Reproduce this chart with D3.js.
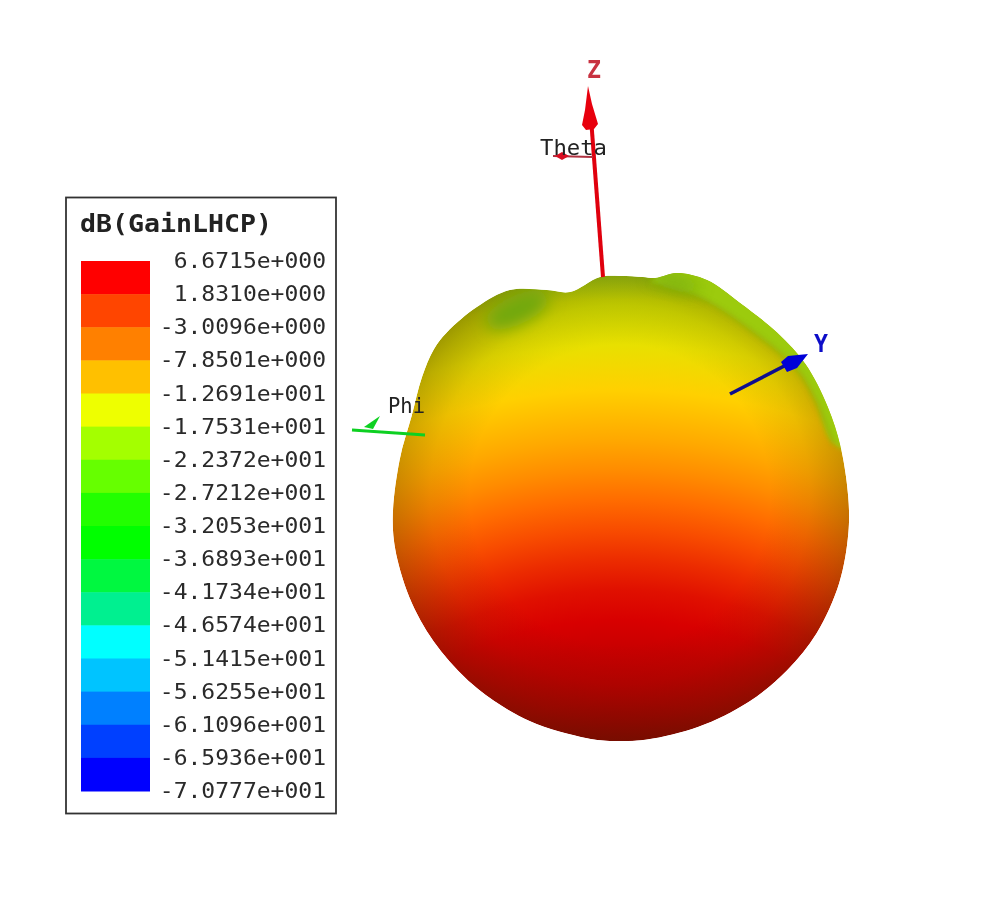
<!DOCTYPE html>
<html><head><meta charset="utf-8">
<script src="https://cdn.jsdelivr.net/npm/d3@7/dist/d3.min.js"></script>
<style>html,body{margin:0;background:#fff}svg{display:block}</style></head>
<body><svg id="c" width="1000" height="920"></svg>
<script>
const legendTitle = "dB(GainLHCP)";
const legendLabels = ["6.6715e+000","1.8310e+000","-3.0096e+000","-7.8501e+000","-1.2691e+001","-1.7531e+001","-2.2372e+001","-2.7212e+001","-3.2053e+001","-3.6893e+001","-4.1734e+001","-4.6574e+001","-5.1415e+001","-5.6255e+001","-6.1096e+001","-6.5936e+001","-7.0777e+001"];
const legendColors = ["#ff0000","#ff4400","#ff8000","#ffc000","#eeff00","#a4ff00","#66ff00","#22ff00","#00ff00","#00f840","#00f090","#00ffff","#00c4ff","#0080ff","#0040ff","#0000ff"];
const patternAngles = [0,5.6,8.6,13.5,20.7,30.1,41.6,51.8,63.5,74,86.7,95.8,108.4,122,133.8,146.2,160.1,173.3,181.7,188.2,203.2,218.3,231.7,244.2,257.4,267.5,282.8,294.2,303.9,310.9,315.7,324.8,333.4,341.6,347.1,355.1];
const patternRadii  = [234,234.1,234.6,243.8,245.9,239.3,237,236,232,229.5,228.6,229.5,231,232,231.5,231,230.5,231,231,230.5,229.5,228.5,228,228,228,227.5,226,228.5,238.5,246,248,248.3,246,231.8,223.7,233.9];
const surfaceHeights = [276,300,345,390,440,470,500,530,560,590,620,650,700,741];
const surfaceColors = ["#9ccb10","#c8d800","#e8e000","#ffd000","#ffa800","#ff8c00","#ff6c00","#f84c00","#ec2c00","#e01000","#d80000","#c80000","#b40000","#9c0000"];

const svg = d3.select("#c");
const defs = svg.append("defs");
const blur = (id,s)=>defs.append("filter").attr("id",id).attr("x","-80%").attr("y","-80%").attr("width","260%").attr("height","260%").append("feGaussianBlur").attr("stdDeviation",s);
blur("soft",0.45); blur("b8",8); blur("b3",2.5);

/* ---- surface ---- */
const cx=620, cy=510, focus=1000;
const rScale=d3.scaleLinear().domain([0,100]).range([0,100]);
const aScale=d3.scaleLinear().domain([0,360]).range([0,2*Math.PI]);
const outline=d3.lineRadial().angle(p=>aScale(p[0])).radius(p=>rScale(p[1])).curve(d3.curveCatmullRomClosed.alpha(0.5));
const blobPath=outline(d3.zip(patternAngles,patternRadii));
const g=svg.append("g").attr("transform",`translate(${cx},${cy})`);
const lg=defs.append("radialGradient").attr("id","surf").attr("gradientUnits","userSpaceOnUse").attr("cx",0).attr("cy",focus-cy).attr("r",focus-276);
const hS=d3.scaleLinear().domain([focus,276]).range([0,1]);
d3.range(surfaceHeights.length-1,-1,-1).forEach(i=>lg.append("stop").attr("offset",hS(surfaceHeights[i])).attr("stop-color",surfaceColors[i]));
const rg=defs.append("radialGradient").attr("id","shade").attr("gradientUnits","userSpaceOnUse").attr("cx",0).attr("cy",-15).attr("r",250);
[[0,0],[0.6,0],[0.76,0.1],[0.9,0.27],[1,0.42]].forEach(s=>rg.append("stop").attr("offset",s[0]).attr("stop-color","#402000").attr("stop-opacity",s[1]));
defs.append("clipPath").attr("id","blob").append("path").attr("d",blobPath);
const inner=g.append("g").attr("clip-path","url(#blob)");
inner.append("path").attr("d",blobPath).attr("fill","url(#surf)");
inner.append("path").attr("d",blobPath).attr("fill","url(#shade)");
// rim lobe on the upper right
const rim=d3.line().curve(d3.curveCatmullRom);
inner.append("path").attr("d",rim([[30,-227],[80,-212],[130,-180],[177,-140],[195,-110],[214,-66],[240,-60],[235,-200],[60,-262]])+"Z").attr("fill","#9ccb10").attr("filter","url(#b3)");
inner.append("path").attr("d",rim([[30,-227],[80,-212],[130,-180],[177,-140],[195,-110],[214,-66]])).attr("fill","none").attr("stroke","#8a9a08").attr("stroke-width",3).attr("opacity",0.4).attr("filter","url(#b3)");
// dimples
const bump=[[-103,-200,34,14,"#70a810",1,-25],[55,-228,26,8,"#78ac10",0.8,16]];
inner.selectAll("ellipse.b").data(bump).join("ellipse").attr("rx",b=>b[2]).attr("ry",b=>b[3]).attr("transform",b=>`translate(${b[0]},${b[1]}) rotate(${b[6]})`).attr("fill",b=>b[4]).attr("opacity",b=>b[5]).attr("filter","url(#b8)");

/* ---- axes ---- */
const ax=svg.append("g").attr("filter","url(#soft)");
const ln=(a,b,c,w)=>ax.append("line").attr("x1",a[0]).attr("y1",a[1]).attr("x2",b[0]).attr("y2",b[1]).attr("stroke",c).attr("stroke-width",w);
const poly=(p,c)=>ax.append("polygon").attr("points",p.map(q=>q.join(",")).join(" ")).attr("fill",c);
const txt=(s,x,y,c,fs,b,len)=>{const t=ax.append("text").attr("x",x).attr("y",y).attr("fill",c).attr("font-family","'DejaVu Sans Mono'").attr("font-size",fs).attr("font-weight",b||"normal").text(s); if(len) t.attr("textLength",len).attr("lengthAdjust","spacingAndGlyphs");};
ln([603,277],[591,118],"#e00010",4);
poly([[588,86],[592,104],[598,124],[594,129],[586,130],[582,125],[585,110]],"#e80010");
ln([593,157],[553,156],"#b03040",1.8);
poly([[555,156],[562,152],[569,156],[562,160]],"#d81020");
txt("Theta",540,155,"#222",21,"normal",67);
txt("Z",587,78,"#c83040",24,"bold",14);
ln([425,435],[352,430],"#10d020",3);
poly([[380,416],[364,427],[373,429]],"#10d020");
txt("Phi",388,413,"#222",21,"normal",37);
ln([730,394],[792,362],"#0a0a90",3.5);
poly([[808,354],[797,368],[787,372],[781,362],[788,356]],"#0404d8");
txt("Y",814,352,"#1010c8",24,"bold",14);

/* ---- legend ---- */
const lgG=svg.append("g").attr("filter","url(#soft)");
lgG.append("rect").attr("x",66).attr("y",197.5).attr("width",270).attr("height",616).attr("fill","#fff").attr("stroke","#333").attr("stroke-width",1.8);
lgG.append("text").attr("x",80).attr("y",232).attr("font-family","'DejaVu Sans Mono'").attr("font-weight","bold").attr("font-size",24).attr("textLength",192).attr("lengthAdjust","spacingAndGlyphs").attr("fill","#222").text(legendTitle);
const bandY=d3.scaleBand().domain(d3.range(legendColors.length)).range([261,791]);
lgG.selectAll("rect.k").data(legendColors).join("rect").attr("class","k").attr("x",81).attr("width",69).attr("y",(c,i)=>bandY(i)).attr("height",bandY.bandwidth()+0.5).attr("fill",c=>c);
const labY=d3.scalePoint().domain(d3.range(legendLabels.length)).range([268,798]);
lgG.selectAll("text.l").data(legendLabels).join("text").attr("class","l").attr("x",t=>326-t.length*13.85).attr("y",(t,i)=>labY(i)).attr("font-family","'DejaVu Sans Mono'").attr("font-size",21).attr("textLength",t=>t.length*13.85).attr("lengthAdjust","spacingAndGlyphs").attr("fill","#2a2a2a").text(t=>t);
</script></body></html>
